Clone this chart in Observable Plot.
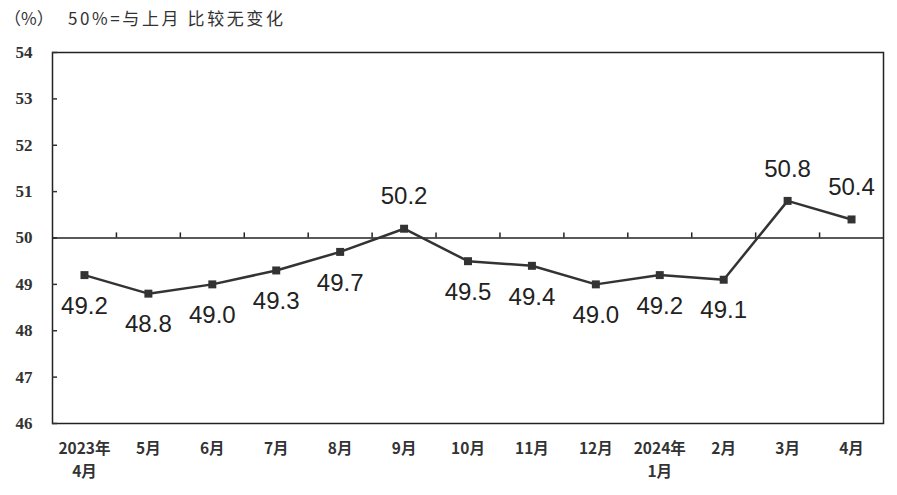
<!DOCTYPE html>
<html><head><meta charset="utf-8">
<script src="https://cdn.jsdelivr.net/npm/d3@7"></script>
<script src="https://cdn.jsdelivr.net/npm/@observablehq/plot@0.6"></script>
<style>body{margin:0;background:#fff;} #c{position:relative;width:897px;height:495px;}
#t{position:absolute;left:4px;top:5px;font:17px "Noto Sans CJK SC",sans-serif;color:#333;white-space:pre}
#t span{position:absolute;left:64px;top:0;letter-spacing:2.6px}</style>
</head><body><div id="c"><div id="t">（%）<span>50%=与上月 比较无变化</span></div></div>
<script>
const months = ["2023年\n4月","5月","6月","7月","8月","9月","10月","11月","12月","2024年\n1月","2月","3月","4月"];
const values = [49.2,48.8,49.0,49.3,49.7,50.2,49.5,49.4,49.0,49.2,49.1,50.8,50.4];
const yTicks = [46,47,48,49,50,51,52,53,54];
const data = months.map((m,i)=>({m, v: values[i]}));
const W = 897, H = 495, ML = 52, MR = 14, MT = 52, MB = 72;
const bw = (W - ML - MR) / months.length;
const chart = Plot.plot({
  width: W, height: H,
  marginLeft: ML, marginRight: MR, marginTop: MT, marginBottom: MB,
  style: {background: "transparent"},
  x: {type: "band", domain: months, padding: 0, round: false, label: null},
  y: {domain: [46, 54], label: null},
  marks: [
    Plot.frame({stroke: "#222", strokeWidth: 1.5}),
    Plot.axisY({ticks: yTicks, tickSize: 0, tickPadding: 20, tickFormat: d3.format("d"), fontSize: 17, fontFamily: "Liberation Serif", fontWeight: "bold", fill: "#333", label: null}),
    Plot.tickY(yTicks, {y: d => d, x: () => months[0], insetRight: bw - 5, stroke: "#333", strokeWidth: 1.5}),
    Plot.axisX({tickSize: 0, tickPadding: 15, fontSize: 15.5, fontWeight: "bold", fontFamily: "Noto Sans CJK SC", fill: "#333", lineHeight: 1.45, label: null}),
    Plot.ruleY([50], {stroke: "#222", strokeWidth: 1.5}),
    Plot.ruleX(months.slice(1), {x: d => d, y1: 50, y2: 50.11, dx: -bw/2, stroke: "#222", strokeWidth: 1.5}),
    Plot.line(data, {x: "m", y: "v", stroke: "#333", strokeWidth: 2.5}),
    Plot.dot(data, {x: "m", y: "v", symbol: "square", r: 4.5, fill: "#333"}),
    Plot.text(data, {x: "m", y: "v", text: d => d.v.toFixed(1), fontSize: 24, fontFamily: "Liberation Sans", fill: "#222",
      filter: d => d.v < 50, dy: 31}),
    Plot.text(data, {x: "m", y: "v", text: d => d.v.toFixed(1), fontSize: 24, fontFamily: "Liberation Sans", fill: "#222",
      filter: d => d.v > 50, dy: -32})
  ]
});
document.getElementById("c").prepend(chart);
chart.style.position = "absolute"; chart.style.left = "0"; chart.style.top = "0";
</script></body></html>
